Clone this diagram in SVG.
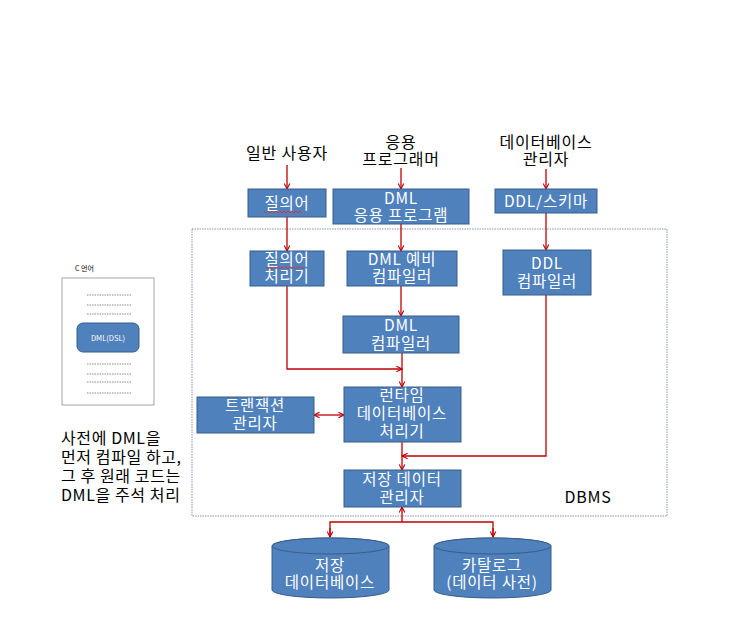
<svg xmlns="http://www.w3.org/2000/svg" width="737" height="620" viewBox="0 0 737 620">
<defs>
<marker id="ah" viewBox="0 0 10 10" refX="9" refY="5" markerWidth="7" markerHeight="7" orient="auto-start-reverse" markerUnits="userSpaceOnUse">
<path d="M1,1 L9,5 L1,9" fill="none" stroke="#C00000" stroke-width="1.6"/>
</marker>
<style>
.box{fill:#4F81BD;stroke:#385D8A;stroke-width:1}
.bt{font-family:"Noto Sans CJK KR","Malgun Gothic",sans-serif;font-size:15.5px;letter-spacing:0.8px;fill:#FFFFFF;text-anchor:middle}
.lb{font-family:"Noto Sans CJK KR","Malgun Gothic",sans-serif;font-size:16px;letter-spacing:0.8px;fill:#000000;text-anchor:middle}
.note{font-family:"Noto Sans CJK KR","Malgun Gothic",sans-serif;font-size:16px;letter-spacing:0.6px;fill:#000000}
.ln{fill:none;stroke:#C00000;stroke-width:1.3}
.sq{fill:none;stroke:#E03030;stroke-width:0.9}
.dash{stroke:#8C8C8C;stroke-width:1;stroke-dasharray:1.5 1}
</style>
</defs>
<rect width="737" height="620" fill="#FFFFFF"/>

<rect id="dbms" x="192" y="229" width="475" height="287" fill="none" stroke="#8595A8" stroke-width="1" stroke-dasharray="1.5 1"/>
<text class="lb" x="588" y="503">DBMS</text>

<g id="label-user"><text class="lb" x="287" y="159">일반 사용자</text></g>
<g id="label-programmer"><text class="lb" x="401" y="148">응용<tspan x="401" dy="17">프로그래머</tspan></text></g>
<g id="label-dba"><text class="lb" x="546" y="148">데이터베이스<tspan x="546" dy="17">관리자</tspan></text></g>

<g id="connectors">
<line class="ln" x1="287" y1="165" x2="287" y2="189" marker-end="url(#ah)"/>
<line class="ln" x1="401" y1="168" x2="401" y2="189" marker-end="url(#ah)"/>
<line class="ln" x1="546" y1="169" x2="546" y2="189" marker-end="url(#ah)"/>
<line class="ln" x1="287" y1="217" x2="287" y2="251" marker-end="url(#ah)"/>
<line class="ln" x1="401" y1="224" x2="401" y2="251" marker-end="url(#ah)"/>
<line class="ln" x1="546" y1="213" x2="546" y2="250" marker-end="url(#ah)"/>
<line class="ln" x1="401" y1="286" x2="401" y2="316" marker-end="url(#ah)"/>
<polyline class="ln" points="287,286 287,369 402,369" marker-end="url(#ah)"/>
<line class="ln" x1="402" y1="353" x2="402" y2="387" marker-end="url(#ah)"/>
<line class="ln" x1="314" y1="415" x2="344" y2="415" marker-start="url(#ah)" marker-end="url(#ah)"/>
<polyline class="ln" points="546,295 546,456 402,456" marker-end="url(#ah)"/>
<line class="ln" x1="402" y1="442" x2="402" y2="470" marker-end="url(#ah)"/>
<line class="ln" x1="402" y1="522" x2="402" y2="507" marker-end="url(#ah)"/>
<polyline class="ln" points="330,536 330,522 493,522 493,536"/>
<line class="ln" x1="330" y1="528" x2="330" y2="537" marker-end="url(#ah)"/>
<line class="ln" x1="493" y1="528" x2="493" y2="537" marker-end="url(#ah)"/>
</g>

<g id="query">
<rect class="box" x="248" y="189" width="78" height="28"/>
<text class="bt" x="287" y="209">질의어</text>
<path class="sq" d="M264,211 l2,2 l2,-2 l2,2 l2,-2 l2,2 l2,-2 l2,2 l2,-2 l2,2 l2,-2 l2,2 l2,-2 l2,2 l2,-2 l2,2 l2,-2 l2,2 l2,-2 l2,2"/>
</g>
<g id="dml-app">
<rect class="box" x="333" y="189" width="136" height="35"/>
<text class="bt" x="401" y="204">DML<tspan x="401" dy="17">응용 프로그램</tspan></text>
</g>
<g id="ddl-schema">
<rect class="box" x="495" y="189" width="102" height="24"/>
<text class="bt" x="546" y="207">DDL/스키마</text>
</g>
<g id="query-processor">
<rect class="box" x="250" y="251" width="74" height="35"/>
<text class="bt" x="287" y="265">질의어<tspan x="287" dy="17">처리기</tspan></text>
<path class="sq" d="M266,267 l2,1.6 l2,-1.6 l2,1.6 l2,-1.6 l2,1.6 l2,-1.6 l2,1.6 l2,-1.6 l2,1.6 l2,-1.6 l2,1.6 l2,-1.6 l2,1.6 l2,-1.6 l2,1.6 l2,-1.6 l2,1.6 l2,-1.6 l2,1.6"/>
</g>
<g id="dml-precompiler">
<rect class="box" x="347" y="251" width="110" height="35"/>
<text class="bt" x="402" y="265">DML 예비<tspan x="402" dy="17">컴파일러</tspan></text>
</g>
<g id="ddl-compiler">
<rect class="box" x="503" y="250" width="88" height="45"/>
<text class="bt" x="547" y="269">DDL<tspan x="547" dy="18">컴파일러</tspan></text>
</g>
<g id="dml-compiler">
<rect class="box" x="343" y="316" width="116" height="37"/>
<text class="bt" x="401" y="331">DML<tspan x="401" dy="18">컴파일러</tspan></text>
</g>
<g id="tx-manager">
<rect class="box" x="197" y="397" width="117" height="36"/>
<text class="bt" x="255" y="411">트랜잭션<tspan x="255" dy="18">관리자</tspan></text>
</g>
<g id="runtime">
<rect class="box" x="344" y="387" width="117" height="55"/>
<text class="bt" x="402" y="401">런타임<tspan x="402" dy="18">데이터베이스</tspan><tspan x="402" dy="18">처리기</tspan></text>
</g>
<g id="storage-manager">
<rect class="box" x="344" y="470" width="117" height="37"/>
<text class="bt" x="402" y="485">저장 데이터<tspan x="402" dy="18">관리자</tspan></text>
</g>
<g id="storage-db">
<path class="box" d="M272,546 A58.5,8 0 0 1 389,546 L389,590 A58.5,8 0 0 1 272,590 Z"/>
<ellipse class="box" cx="330.5" cy="546" rx="58.5" ry="8"/>
<text class="bt" x="330" y="571">저장<tspan x="330" dy="17">데이터베이스</tspan></text>
</g>
<g id="catalog">
<path class="box" d="M434,546 A58.5,8 0 0 1 551,546 L551,590 A58.5,8 0 0 1 434,590 Z"/>
<ellipse class="box" cx="492.5" cy="546" rx="58.5" ry="8"/>
<text class="bt" x="492" y="571">카탈로그<tspan x="492" dy="17">(데이터 사전)</tspan></text>
</g>

<g id="c-doc">
<text x="75" y="271" font-family="Noto Sans CJK KR, sans-serif" font-size="7px" fill="#000">C 언어</text>
<rect x="62" y="278" width="92" height="127" fill="#FFFFFF" stroke="#A6A6A6" stroke-width="1"/>
<line class="dash" x1="87" y1="295" x2="132" y2="295"/>
<line class="dash" x1="87" y1="305" x2="132" y2="305"/>
<line class="dash" x1="87" y1="314" x2="132" y2="314"/>
<rect x="77" y="323" width="62" height="29" rx="6" ry="6" fill="#4F81BD" stroke="#385D8A" stroke-width="1"/>
<text x="108" y="341" font-family="Noto Sans CJK KR, sans-serif" font-size="7.5px" fill="#FFFFFF" text-anchor="middle">DML(DSL)</text>
<line class="dash" x1="87" y1="364" x2="132" y2="364"/>
<line class="dash" x1="87" y1="374" x2="132" y2="374"/>
<line class="dash" x1="87" y1="382" x2="132" y2="382"/>
<line class="dash" x1="87" y1="393" x2="132" y2="393"/>
</g>
<g id="note">
<text class="note" x="61" y="444">사전에 DML을<tspan x="61" dy="19">먼저 컴파일 하고,</tspan><tspan x="61" dy="19">그 후 원래 코드는</tspan><tspan x="61" dy="19">DML을 주석 처리</tspan></text>
</g>
</svg>
